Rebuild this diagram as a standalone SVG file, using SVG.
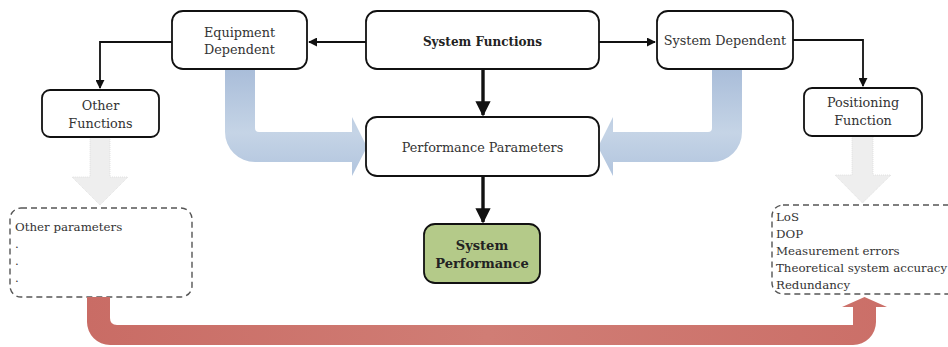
<svg xmlns="http://www.w3.org/2000/svg" width="948" height="347" viewBox="0 0 948 347">
<defs>
<style>
text{font-family:'DejaVu Serif','Liberation Serif',serif;font-size:12.8px;fill:#333;}
.b{font-weight:bold;fill:#222;}
.node{fill:#fff;stroke:#111;stroke-width:1.8;}
.dash{fill:#fff;stroke:#555;stroke-width:1.4;stroke-dasharray:6 4;}
.conn{fill:none;stroke:#111;stroke-width:1.8;}
.thick{fill:none;stroke:#111;stroke-width:3.4;}
.gray{fill:#eeeeee;stroke:#dcdcdc;stroke-width:0.8;stroke-dasharray:1 1;}
.lst{font-size:11.8px;}
</style>
<marker id="ah" viewBox="0 0 10 10" refX="9" refY="5" markerWidth="9" markerHeight="9" markerUnits="userSpaceOnUse" orient="auto"><path d="M0,0 L10,5 L0,10 Z" fill="#111"/></marker>
<marker id="ahb" viewBox="0 0 10 10" refX="9" refY="5" markerWidth="4.5" markerHeight="4.5" orient="auto"><path d="M0,0 L10,5 L0,10 Z" fill="#111"/></marker>
<linearGradient id="blue" x1="0" y1="69" x2="0" y2="175" gradientUnits="userSpaceOnUse">
<stop offset="0" stop-color="#a9bdd9"/><stop offset="0.6" stop-color="#c5d4e6"/><stop offset="1" stop-color="#b2c5de"/>
</linearGradient>
<linearGradient id="red" x1="87" y1="0" x2="887" y2="0" gradientUnits="userSpaceOnUse">
<stop offset="0" stop-color="#c96c65"/><stop offset="0.5" stop-color="#d07d75"/><stop offset="1" stop-color="#cb6f68"/>
</linearGradient>
</defs>

<g id="flows">
<path d="M225,69 H255 V128 Q255,132 259,132 H352 V117 L367,147 L352,176 V162 H255 A30,30 0 0 1 225,132 Z" fill="url(#blue)"/>
<path d="M712,69 H742 V132 A30,30 0 0 1 712,162 H613 V176 L598,147 L613,117 V132 H708 Q712,132 712,128 Z" fill="url(#blue)"/>
<path class="gray" d="M90,137 H110 V177 H128 L100,205 L72,177 H90 Z"/>
<path class="gray" d="M852,136 H873 V175 H891 L862.5,203 L835,175 H852 Z"/>
</g>

<g id="connectors">
<path class="conn" d="M366,42 H309" marker-end="url(#ah)"/>
<path class="conn" d="M599,42 H655" marker-end="url(#ah)"/>
<path class="conn" d="M172,42 H100 V88" marker-end="url(#ah)"/>
<path class="conn" d="M793,40 H863 V86" marker-end="url(#ah)"/>
<path class="thick" d="M483,69 V115" marker-end="url(#ahb)"/>
<path class="thick" d="M483,176 V222" marker-end="url(#ahb)"/>
</g>

<g id="equipment-dependent">
<rect class="node" x="172" y="11" width="135" height="58" rx="11"/>
<text x="239.5" y="37" text-anchor="middle">Equipment</text>
<text x="239.5" y="54" text-anchor="middle">Dependent</text>
</g>
<g id="system-functions">
<rect class="node" x="366" y="11" width="233" height="58" rx="11"/>
<text class="b" x="482.5" y="45.5" text-anchor="middle" style="font-size:12px">System Functions</text>
</g>
<g id="system-dependent">
<rect class="node" x="657" y="11" width="136" height="58" rx="11"/>
<text x="725" y="45" text-anchor="middle">System Dependent</text>
</g>
<g id="other-functions">
<rect class="node" x="42" y="90" width="117" height="47" rx="8"/>
<text x="100.5" y="110" text-anchor="middle">Other</text>
<text x="100.5" y="128" text-anchor="middle">Functions</text>
</g>
<g id="positioning-function">
<rect class="node" x="804" y="88" width="118" height="48" rx="8"/>
<text x="863" y="107" text-anchor="middle">Positioning</text>
<text x="863" y="125" text-anchor="middle">Function</text>
</g>
<g id="performance-parameters">
<rect class="node" x="366" y="117" width="233" height="59" rx="11"/>
<text x="482.5" y="151.5" text-anchor="middle">Performance Parameters</text>
</g>
<g id="system-performance">
<rect class="node" x="424" y="224" width="116" height="59" rx="11" style="fill:#b4ca89"/>
<text class="b" x="482" y="250" text-anchor="middle" style="font-size:13px">System</text>
<text class="b" x="482" y="268" text-anchor="middle" style="font-size:13px">Performance</text>
</g>
<g id="other-parameters">
<rect class="dash" x="10" y="208" width="182" height="89" rx="11"/>
<text class="lst" x="15" y="231">Other parameters</text>
<text class="lst" x="15" y="248">.</text>
<text class="lst" x="15" y="265">.</text>
<text class="lst" x="15" y="282">.</text>
</g>
<g id="positioning-parameters">
<rect class="dash" x="772" y="205" width="200" height="89" rx="11"/>
<text class="lst" x="776" y="221">LoS</text>
<text class="lst" x="776" y="238">DOP</text>
<text class="lst" x="776" y="255">Measurement errors</text>
<text class="lst" x="776" y="272">Theoretical system accuracy</text>
<text class="lst" x="776" y="289">Redundancy</text>
</g>

<g id="feedback">
<path d="M87,297 H110 V318 Q110,325 117,325 H853 V307 H842 L864.5,297 L887,307 H876 V322 A23,23 0 0 1 853,345 H110 A23,23 0 0 1 87,322 Z" fill="url(#red)"/>
</g>
</svg>
